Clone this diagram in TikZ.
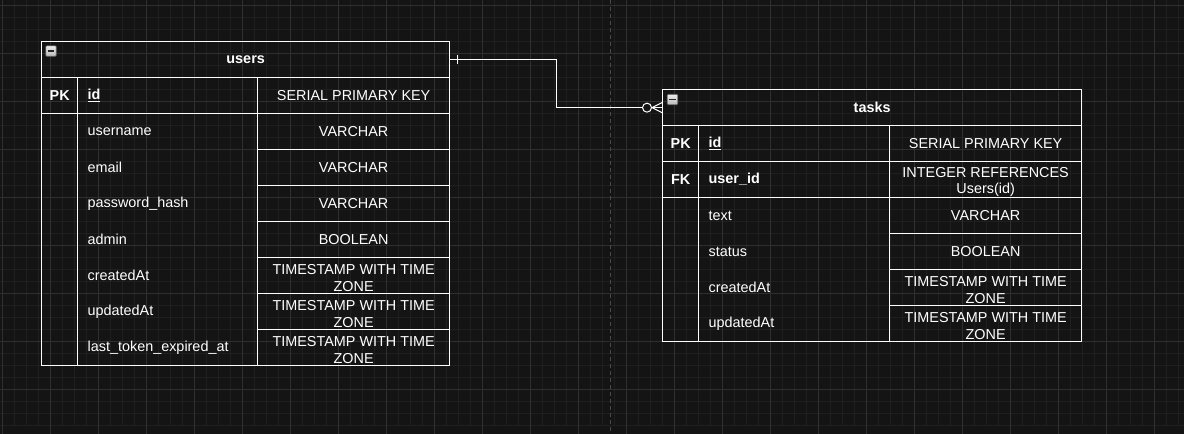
\documentclass[tikz,border=0pt]{standalone}
\usepackage{fontspec}
\setmainfont{Liberation Sans}
\definecolor{canvas}{HTML}{141414}
\definecolor{minorline}{HTML}{1F1F1F}
\definecolor{majorline}{HTML}{2F2F2F}
\definecolor{pageline}{HTML}{4A4A4A}
\newcommand{\lowered}[1]{\raisebox{-2.5pt}[\height][\depth]{#1}}
\begin{document}
\begin{tikzpicture}[x=1pt, y=-1pt, line width=1.3pt,
  every node/.style={text=white, font=\fontsize{14.4}{16.5}\selectfont, inner sep=0pt},
  cell/.style={draw=white, rectangle, anchor=north west},
  tablehead/.style={cell, minimum width=#1, minimum height=36, font=\fontsize{14.4}{16.5}\selectfont\bfseries},
  keycell/.style={cell, minimum width=36, minimum height=36, font=\fontsize{14.4}{16.5}\selectfont\bfseries},
  keycol/.style={cell, minimum width=36, minimum height=#1},
  namecol/.style={cell, minimum width=#1, minimum height=36},
  namecell/.style={rectangle, anchor=north west, minimum height=36, text width=#1, inner xsep=10pt, align=left},
  typecell/.style={cell, minimum width=192, minimum height=36, align=center},
  minusicon/.style={rectangle, rounded corners=1pt, draw=gray!70!black, line width=0.6pt, top color=gray!15, bottom color=gray!55, minimum size=10.5,
    path picture={\draw[black!85, line width=1.6pt] ([xshift=2pt]path picture bounding box.west) -- ([xshift=-2pt]path picture bounding box.east);}}]
\useasboundingbox (0,0) rectangle (1184,433.5);
\clip (0,0) rectangle (1184,433.5);
\fill[canvas] (-10,-10) rectangle (1194,444);
\begin{scope}[shift={(2.5,5)}, line width=0.8pt]
\draw[minorline, step=12pt] (-12,420) grid (1200,-12);
\draw[majorline, step=48pt] (-48,432) grid (1200,-48);
\end{scope}
\draw[pageline, line width=0.8pt, dash pattern=on 4pt off 3pt] (610,0) -- (610,434);

\node[tablehead=408] (usershead) at (41,41) {users};
\node[minusicon] (usersminus) at (51,51) {};
\node[keycell] (userspk) at (41,77) {PK};
\node[namecol=180] (usersidbox) at (77,77) {};
\node[namecell=160] (usersid) at (77,77) {\textbf{\underline{id}}};
\node[typecell] (usersidtype) at (257,77) {SERIAL PRIMARY KEY};
\node[keycol=252] (userskeys) at (41,113) {};
\node[cell, minimum width=180, minimum height=252] (usersnames) at (77,113) {};
\node[namecell=160] (usersusername) at (77,113) {username};
\node[typecell] (usersusernametype) at (257,113) {VARCHAR};
\node[namecell=160] (usersemail) at (77,149) {email};
\node[typecell] (usersemailtype) at (257,149) {VARCHAR};
\node[namecell=160] (userspassword) at (77,185) {password\_hash};
\node[typecell] (userspasswordtype) at (257,185) {VARCHAR};
\node[namecell=160] (usersadmin) at (77,221) {admin};
\node[typecell] (usersadmintype) at (257,221) {BOOLEAN};
\node[namecell=160] (userscreated) at (77,257) {createdAt};
\node[typecell] (userscreatedtype) at (257,257) {\lowered{TIMESTAMP WITH TIME}\\\lowered{ZONE}};
\node[namecell=160] (usersupdated) at (77,293) {updatedAt};
\node[typecell] (usersupdatedtype) at (257,293) {\lowered{TIMESTAMP WITH TIME}\\\lowered{ZONE}};
\node[namecell=160] (userstoken) at (77,329) {last\_token\_expired\_at};
\node[typecell] (userstokentype) at (257,329) {\lowered{TIMESTAMP WITH TIME}\\\lowered{ZONE}};

\node[tablehead=419] (taskshead) at (662,89) {tasks};
\node[minusicon] (tasksminus) at (672.5,99.5) {};
\node[keycell] (taskspk) at (662,125) {PK};
\node[namecol=191] (tasksidbox) at (698,125) {};
\node[namecell=171] (tasksid) at (698,125) {\textbf{\underline{id}}};
\node[typecell] (tasksidtype) at (889,125) {SERIAL PRIMARY KEY};
\node[keycell] (tasksfk) at (662,161) {FK};
\node[namecol=191] (tasksuseridbox) at (698,161) {};
\node[namecell=171] (tasksuserid) at (698,161) {\textbf{user\_id}};
\node[typecell] (tasksuseridtype) at (889,161) {\lowered{INTEGER REFERENCES}\\\lowered{Users(id)}};
\node[keycol=144] (taskskeys) at (662,197) {};
\node[cell, minimum width=191, minimum height=144] (tasksnames) at (698,197) {};
\node[namecell=171] (taskstext) at (698,197) {text};
\node[typecell] (taskstexttype) at (889,197) {VARCHAR};
\node[namecell=171] (tasksstatus) at (698,233) {status};
\node[typecell] (tasksstatustype) at (889,233) {BOOLEAN};
\node[namecell=171] (taskscreated) at (698,269) {createdAt};
\node[typecell] (taskscreatedtype) at (889,269) {\lowered{TIMESTAMP WITH TIME}\\\lowered{ZONE}};
\node[namecell=171] (tasksupdated) at (698,305) {updatedAt};
\node[typecell] (tasksupdatedtype) at (889,305) {\lowered{TIMESTAMP WITH TIME}\\\lowered{ZONE}};

\draw[white] (usershead.east) -- ++(106,0) |- (taskshead.west);
\draw[white] (usershead.east) ++(7,-4.5) -- ++(0,9);
\draw[white, line width=1pt] (taskshead.west) ++(-10,0) -- ++(10,-5) ++(-10,5) -- ++(10,5);
\draw[white, line width=1pt, fill=canvas] (taskshead.west) ++(-15,0) circle[radius=4.5];
\end{tikzpicture}
\end{document}
